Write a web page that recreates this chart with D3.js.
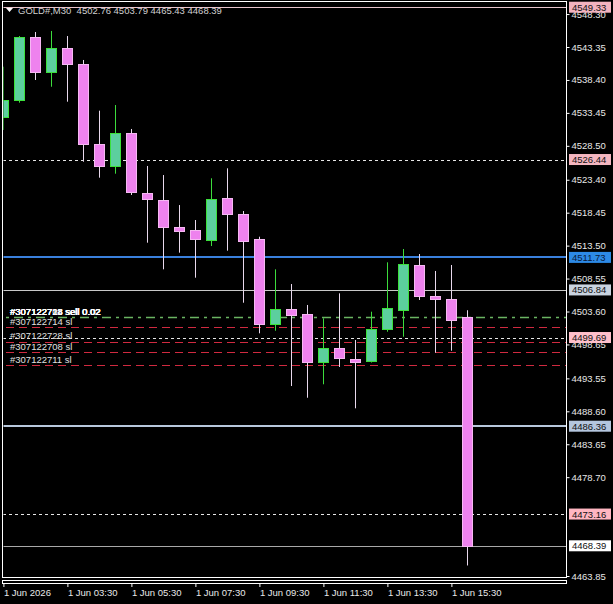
<!DOCTYPE html>
<html><head><meta charset="utf-8">
<script src="https://cdn.jsdelivr.net/npm/d3@7"></script>
<style>html,body{margin:0;padding:0;background:#000;overflow:hidden}</style>
</head><body><svg id="c" width="613" height="604"></svg>
<script>
// ---- data ----
const times = ["01:30","02:00","02:30","03:00","03:30","04:00","04:30","05:00","05:30","06:00",
  "06:30","07:00","07:30","08:00","08:30","09:00","09:30","10:00","10:30","11:00",
  "11:30","12:00","12:30","13:00","13:30","14:00","14:30","15:00","15:30","16:00"];
const open  = [4532.87,4535.28,4544.81,4539.49,4543.15,4540.80,4528.73,4525.36,4530.38,4521.36,
  4520.31,4516.30,4515.80,4514.34,4520.61,4518.25,4514.49,4501.61,4503.93,4503.18,
  4495.90,4498.07,4496.41,4496.05,4500.97,4503.82,4510.54,4505.93,4505.43,4502.76];
const high  = [4540.39,4545.00,4545.60,4545.76,4545.00,4541.40,4533.78,4534.63,4531.03,4525.47,
  4524.11,4519.60,4517.35,4523.62,4525.12,4518.70,4514.84,4509.94,4507.73,4504.58,
  4502.58,4506.33,4499.32,4503.57,4510.99,4512.99,4512.24,4509.69,4510.59,4503.79];
const low   = [4530.88,4534.98,4538.39,4537.38,4535.13,4526.11,4523.71,4524.31,4521.11,4513.94,
  4509.94,4512.44,4508.68,4513.44,4512.74,4504.92,4500.32,4500.71,4492.40,4490.64,
  4492.66,4495.26,4489.05,4495.93,4500.56,4499.81,4505.33,4497.41,4497.71,4465.43];
const close = [4535.38,4544.81,4539.49,4543.15,4540.75,4528.73,4525.36,4530.38,4521.45,4520.46,
  4516.25,4515.74,4514.39,4520.46,4518.21,4514.24,4501.68,4503.93,4502.97,4495.90,
  4498.07,4496.57,4495.96,4500.92,4504.08,4510.74,4505.82,4505.52,4502.22,4468.39];

const priceTicks = [4548.30,4543.35,4538.40,4533.45,4528.50,4523.40,4518.45,4513.50,4508.55,
  4503.60,4498.65,4493.55,4488.60,4483.65,4478.70,4463.85];
const timeTickAt = ["01:30","03:30","05:30","07:30","09:30","11:30","13:30","15:30"];
const timeTickLabels = ["1 Jun 2026","1 Jun 03:30","1 Jun 05:30","1 Jun 07:30","1 Jun 09:30",
  "1 Jun 11:30","1 Jun 13:30","1 Jun 15:30"];

const levelPrices = [4549.33,4526.44,4511.73,4506.84,4499.69,4486.36,4473.16,4468.39];
const orderPrice = 4502.76;
const orderIds = ["#307122708","#307122711","#307122714","#307122728"];
const slPrices = [4501.27,4499.09,4497.47,4495.51];
const slIds = ["#307122714","#307122728","#307122708","#307122711"];
const headerText = "GOLD#,M30  4502.76 4503.79 4465.43 4468.39";

// ---- styles ----
const levelStyle = [
  {stroke:"#e8c4cc", w:1, dash:null, bg:"#f2b3bf"},
  {stroke:"#e6e6e6", w:1, dash:"3,3", bg:"#f4b6c0"},
  {stroke:"#3a80dc", w:2, dash:null, bg:"#2d8ae6"},
  {stroke:"#c8c8c8", w:1, dash:null, bg:"#c9d3e0"},
  {stroke:"#e6e6e6", w:1, dash:"3,3", bg:"#ffc0cb"},
  {stroke:"#b8c8dc", w:2, dash:null, bg:"#b4c6de"},
  {stroke:"#e6e6e6", w:1, dash:"3,3", bg:"#ffb6c1"},
  {stroke:"#a8a8a8", w:1, dash:null, bg:"#ffffff"}
];
const FONT = "Liberation Sans, Arial, sans-serif";

const svg = d3.select("#c");
svg.append("rect").attr("width",613).attr("height",604).attr("fill","#000");

const L = 3, R = 567, T = 2, B = 578;
const y = d3.scaleLinear().domain([4463.85, 4543.35]).range([576, 47]);
const x = d3.scalePoint().domain(times).range([3.4, 467.4]);

svg.append("defs").append("clipPath").attr("id","plot")
  .append("rect").attr("x",L+0.5).attr("y",T+0.5).attr("width",R-L-1).attr("height",B-T-1);

const plot = svg.append("g").attr("clip-path","url(#plot)");

// level lines
levelPrices.forEach((p,i)=>{
  const s = levelStyle[i];
  const yy = Math.round(y(p)) + (s.w===1?0.5:0);
  plot.append("line").attr("x1",L).attr("x2",R).attr("y1",yy).attr("y2",yy)
    .attr("stroke",s.stroke).attr("stroke-width",s.w).attr("stroke-dasharray",s.dash);
});

// order line + sl lines
{
  const yy = Math.round(y(orderPrice))+0.5;
  plot.append("line").attr("x1",L+3).attr("x2",R).attr("y1",yy).attr("y2",yy)
    .attr("stroke","#6ab462").attr("stroke-width",1.6).attr("stroke-dasharray","3,5,9,5");
}
slPrices.forEach(p=>{
  const yy = Math.round(y(p))+0.5;
  plot.append("line").attr("x1",L+3).attr("x2",R).attr("y1",yy).attr("y2",yy)
    .attr("stroke","#d02a40").attr("stroke-width",1.2).attr("stroke-dasharray","8,5");
});

// candles
const bars = times.map((t,i)=>({t,o:open[i],h:high[i],l:low[i],c:close[i]}));
const g = plot.append("g");
bars.forEach(d=>{
  const up = d.c >= d.o;
  const cx = Math.round(x(d.t)) + 0.5;
  g.append("line").attr("x1",cx).attr("x2",cx)
    .attr("y1",y(d.h)).attr("y2",y(d.l))
    .attr("stroke", up ? "#3cdc3c" : "#e8d8ec").attr("stroke-width",1);
  const yt = y(Math.max(d.o,d.c)), yb = y(Math.min(d.o,d.c));
  g.append("rect").attr("x",cx-5).attr("width",10)
    .attr("y",Math.round(yt)+0.5).attr("height",Math.max(1,Math.round(yb-yt)))
    .attr("fill", up ? "#5ccf9e" : "#ee82ee")
    .attr("stroke", up ? "#3ce03c" : "#f5b8f2").attr("stroke-width",1);
});

// order texts
orderIds.forEach(id=>{
  plot.append("text").attr("x",10).attr("y",y(orderPrice)-2.5)
    .attr("fill","#ffffff").attr("font-family",FONT).attr("font-size","9.5px")
    .text(id+" sell 0.02");
});
slPrices.forEach((p,i)=>{
  plot.append("text").attr("x",10).attr("y",y(p)-2.5)
    .attr("fill","#e0e0e0").attr("font-family",FONT).attr("font-size","9.5px")
    .text(slIds[i]+" sl");
});

// header
svg.append("path").attr("d","M6,8 L13,8 L9.5,12 Z").attr("fill","#ffffff");
svg.append("text").attr("x",18).attr("y",13.5).attr("fill","#d0d0d0")
  .attr("font-family",FONT).attr("font-size","9.5px").attr("xml:space","preserve")
  .style("white-space","pre").text(headerText);

// frame
svg.append("rect").attr("x",L-0.5).attr("y",T-0.5).attr("width",R-L).attr("height",B-T)
  .attr("fill","none").attr("stroke","#ffffff").attr("stroke-width",1);
svg.append("rect").attr("x",L-0.5).attr("y",580.5).attr("width",R-L).attr("height",3)
  .attr("fill","none").attr("stroke","#ffffff").attr("stroke-width",1);

// price axis
const yAxis = d3.axisRight(y).tickValues(priceTicks).tickSize(3).tickPadding(2)
  .tickFormat(d3.format(".2f"));
const ya = svg.append("g").attr("transform",`translate(${R-0.5},0)`).call(yAxis);
ya.select(".domain").remove();
ya.selectAll(".tick line").attr("stroke","#ffffff");
ya.selectAll(".tick text").attr("fill","#e8e8e8").attr("font-family",FONT).attr("font-size","9.5px");

// price labels boxes
levelPrices.forEach((p,i)=>{
  const s = levelStyle[i];
  const cy = y(p);
  const top = Math.max(0, cy-5.5);
  const h = cy-5.5 < 0 ? 9.5 : 11;
  svg.append("rect").attr("x",569).attr("y",top).attr("width",42).attr("height",h)
    .attr("fill",s.bg);
  svg.append("text").attr("x",572).attr("y",top+h-2).attr("fill", i===2?"#0a1a3a":"#101010")
    .attr("font-family",FONT).attr("font-size","9.5px").text(p.toFixed(2));
});

// time axis
const xAxis = d3.axisBottom(x).tickValues(timeTickAt).tickSize(3).tickPadding(0)
  .tickFormat((d,i)=>timeTickLabels[i]);
const xa = svg.append("g").attr("transform","translate(0,584)").call(xAxis);
xa.select(".domain").remove();
xa.selectAll(".tick line").attr("stroke","#ffffff");
xa.selectAll(".tick text").attr("fill","#e8e8e8").attr("font-family",FONT)
  .attr("font-size","9.5px").attr("text-anchor","start").attr("dy","0").attr("y",11.5);
</script></body></html>
